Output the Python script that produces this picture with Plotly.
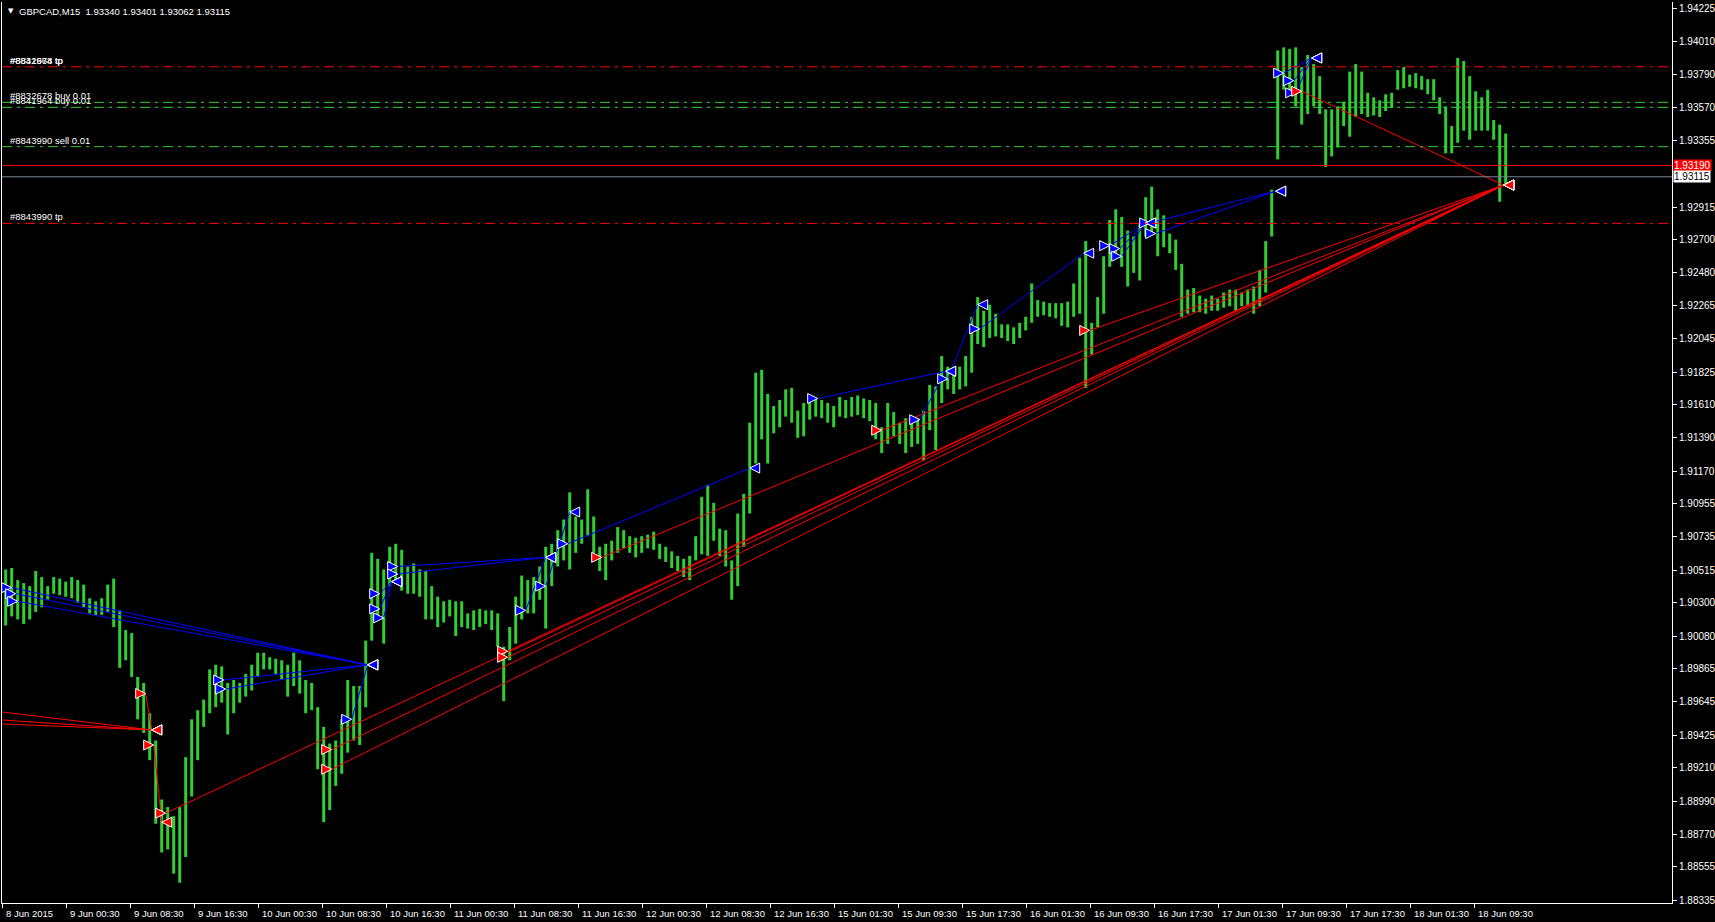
import plotly.graph_objects as go

# ---------------- data ----------------
# each entry = one group of 3 consecutive M15 bars (high / low)
highs = [
1.9052,1.9053,1.9045,1.9043,1.9041,1.9051,1.9047,1.9041,1.9047,1.9046,
1.9044,1.9047,1.9045,1.9042,1.9033,1.9031,1.9033,1.9042,1.9046,1.9025,
1.9012,1.9010,1.8981,1.8977,1.8957,1.8939,1.8900,1.8895,1.8889,1.8895,
1.8928,1.8953,1.8959,1.8966,1.8986,1.8989,1.8988,1.8977,1.8979,1.8977,
1.8983,1.8989,1.8997,1.8997,1.8994,1.8993,1.8992,1.8989,1.8997,1.8992,
1.8979,1.8977,1.8961,1.8948,1.8937,1.8939,1.8953,1.8979,1.8975,1.8975,
1.9005,1.9063,1.9059,1.9052,1.9067,1.9069,1.9065,1.9054,1.9056,1.9052,
1.9051,1.9041,1.9034,1.9031,1.9032,1.9031,1.9031,1.9023,1.9025,1.9026,
1.9025,1.9025,1.9023,1.9001,1.9014,1.9034,1.9048,1.9045,1.9047,1.9054,
1.9067,1.9069,1.9078,1.9085,1.9103,1.9087,1.9085,1.9105,1.9087,1.9067,
1.9069,1.9071,1.9080,1.9078,1.9074,1.9073,1.9074,1.9075,1.9077,1.9069,
1.9067,1.9064,1.9061,1.9059,1.9061,1.9074,1.9100,1.9108,1.9096,1.9079,
1.9078,1.9058,1.9089,1.9102,1.9149,1.9182,1.9184,1.9168,1.9160,1.9164,
1.9171,1.9172,1.9157,1.9162,1.9166,1.9165,1.9164,1.9162,1.9160,1.9166,
1.9164,1.9166,1.9167,1.9165,1.9164,1.9162,1.9146,1.9162,1.9156,1.9149,
1.9152,1.9151,1.9152,1.9157,1.9174,1.9173,1.9193,1.9186,1.9184,1.9186,
1.9193,1.9219,1.9232,1.9223,1.9227,1.9221,1.9214,1.9214,1.9212,1.9215,
1.9219,1.9241,1.9230,1.9229,1.9228,1.9228,1.9228,1.9229,1.9241,1.9258,
1.9269,1.9215,1.9232,1.9259,1.9283,1.9290,1.9285,1.9276,1.9272,1.9280,
1.9298,1.9305,1.9290,1.9286,1.9274,1.9270,1.9254,1.9237,1.9238,1.9233,
1.9231,1.9233,1.9231,1.9235,1.9237,1.9237,1.9235,1.9237,1.9239,1.9250,
1.9269,1.9303,1.9395,1.9397,1.9396,1.9397,1.9384,1.9392,1.9386,1.9378,
1.9356,1.9356,1.9358,1.9361,1.9381,1.9386,1.9381,1.9367,1.9364,1.9362,
1.9366,1.9367,1.9382,1.9384,1.9379,1.9380,1.9378,1.9376,1.9376,1.9364,
1.9358,1.9345,1.9390,1.9388,1.9378,1.9368,1.9364,1.9369,1.9349,1.9346,
1.93401]
lows = [
1.9015,1.9021,1.9019,1.9016,1.9019,1.9024,1.9027,1.9032,1.9036,1.9035,
1.9034,1.9033,1.9030,1.9027,1.9023,1.9022,1.9022,1.9024,1.9014,1.8987,
1.8992,1.8981,1.8953,1.8944,1.8926,1.8884,1.8865,1.8867,1.8851,1.8845,
1.8862,1.8902,1.8926,1.8948,1.8957,1.8961,1.8964,1.8943,1.8957,1.8964,
1.8968,1.8972,1.8981,1.8986,1.8986,1.8983,1.8979,1.8968,1.8975,1.8970,
1.8957,1.8959,1.8920,1.8885,1.8893,1.8909,1.8917,1.8931,1.8939,1.8936,
1.8961,1.9005,1.9019,1.9003,1.9041,1.9045,1.9038,1.9036,1.9036,1.9034,
1.9019,1.9019,1.9014,1.9017,1.9021,1.9008,1.9014,1.9013,1.9012,1.9014,
1.9016,1.9012,1.9001,1.8965,1.8992,1.9003,1.9019,1.9023,1.9023,1.9032,
1.9013,1.9041,1.9054,1.9058,1.9052,1.9063,1.9069,1.9074,1.9063,1.9051,
1.9045,1.9058,1.9063,1.9066,1.9063,1.9060,1.9063,1.9066,1.9065,1.9059,
1.9057,1.9053,1.9051,1.9047,1.9045,1.9058,1.9062,1.9061,1.9071,1.9061,
1.9054,1.9032,1.9041,1.9067,1.9089,1.9122,1.9138,1.9122,1.9142,1.9146,
1.9153,1.9149,1.9139,1.9140,1.9151,1.9153,1.9152,1.9149,1.9146,1.9153,
1.9152,1.9153,1.9154,1.9152,1.9150,1.9138,1.9129,1.9135,1.9140,1.9135,
1.9129,1.9133,1.9135,1.9124,1.9144,1.9131,1.9162,1.9171,1.9168,1.9171,
1.9173,1.9182,1.9201,1.9199,1.9205,1.9206,1.9205,1.9203,1.9201,1.9205,
1.9210,1.9215,1.9219,1.9220,1.9219,1.9218,1.9213,1.9212,1.9219,1.9221,
1.9172,1.9194,1.9212,1.9221,1.9252,1.9259,1.9252,1.9239,1.9248,1.9243,
1.9272,1.9274,1.9259,1.9265,1.9261,1.9250,1.9219,1.9221,1.9222,1.9222,
1.9221,1.9223,1.9223,1.9225,1.9226,1.9223,1.9226,1.9226,1.9221,1.9226,
1.9235,1.9272,1.9323,1.9369,1.9367,1.9358,1.9346,1.9353,1.9358,1.9353,
1.9318,1.9325,1.9331,1.9345,1.9338,1.9351,1.9353,1.9351,1.9352,1.9351,
1.9355,1.9357,1.9369,1.9370,1.9371,1.9370,1.9369,1.9366,1.9362,1.9353,
1.9327,1.9327,1.9334,1.9342,1.9336,1.9342,1.9342,1.9342,1.9336,1.9295,
1.93062]
# position of each group, in M15-bar units
bar_pos = [3 * i + 1 for i in range(len(highs))]

time_labels = ["8 Jun 2015", "9 Jun 00:30", "9 Jun 08:30", "9 Jun 16:30", "10 Jun 00:30",
               "10 Jun 08:30", "10 Jun 16:30", "11 Jun 00:30", "11 Jun 08:30", "11 Jun 16:30",
               "12 Jun 00:30", "12 Jun 08:30", "12 Jun 16:30", "15 Jun 01:30", "15 Jun 09:30",
               "15 Jun 17:30", "16 Jun 01:30", "16 Jun 09:30", "16 Jun 17:30", "17 Jun 01:30",
               "17 Jun 09:30", "17 Jun 17:30", "18 Jun 01:30", "18 Jun 09:30"]
time_label_bar = [32 * i - 0.5 for i in range(len(time_labels))]

price_ticks = [1.94225, 1.94010, 1.93790, 1.93570, 1.93355, 1.92915, 1.92700, 1.92480,
               1.92265, 1.92045, 1.91825, 1.91610, 1.91390, 1.91170, 1.90955, 1.90735,
               1.90515, 1.90300, 1.90080, 1.89865, 1.89645, 1.89425, 1.89210, 1.88990,
               1.88770, 1.88555, 1.88335]

# order levels (tp / open price lines)
level_price = [1.93842, 1.93607, 1.93574, 1.93314, 1.92807]
level_color = ["#FF0000", "#32CD32", "#32CD32", "#32CD32", "#FF0000"]
level_text = [["#8832678 tp", "#8841964 tp"], ["#8832678 buy 0.01"], ["#8841964 buy 0.01"],
              ["#8843990 sell 0.01"], ["#8843990 tp"]]
ask_price = 1.93190
bid_price = 1.93115
header = "GBPCAD,M15\u00a0\u00a01.93340 1.93401 1.93062 1.93115"

# closed trades (bar position, price)
buy_open_bar = [4, 6, 7, 110, 111, 174, 188, 188, 190, 197, 197, 261, 271, 282,
                407, 458, 472, 488, 553, 558, 559, 573, 576, 640, 645, 646]
buy_open_price = [1.9040, 1.9036, 1.9031, 1.8979, 1.8973, 1.8953, 1.9036, 1.9026, 1.9020,
                  1.9054, 1.9049, 1.9025, 1.9041, 1.9069, 1.9165, 1.9151, 1.9178, 1.9211,
                  1.9266, 1.9264, 1.9259, 1.9281, 1.9274, 1.9380, 1.9375, 1.9367]
buy_close_bar = [182, 182, 182, 182, 182, 182, 194, 194, 194, 271, 271, 271, 283, 373,
                 471, 471, 487, 540, 571, 571, 571, 636, 636, 654, 654, 654]
buy_close_price = [1.8989, 1.8989, 1.8989, 1.8989, 1.8989, 1.8989, 1.9044, 1.9044, 1.9044,
                   1.9060, 1.9060, 1.9060, 1.9090, 1.9119, 1.9183, 1.9183, 1.9227, 1.9261,
                   1.9281, 1.9281, 1.9281, 1.9302, 1.9302, 1.9390, 1.9390, 1.9390]
sell_open_bar = [-40, -40, -40, 71, 75, 81, 164, 164, 252, 252, 299, 439, 543, 649]
sell_open_price = [1.8964, 1.8956, 1.8952, 1.8970, 1.8936, 1.8891, 1.8933, 1.8920, 1.8998,
                   1.8994, 1.9060, 1.9144, 1.9210, 1.9368]
sell_close_bar = [74, 74, 74, 74, 79, 750, 750, 750, 750, 750, 750, 750, 750, 750]
sell_close_price = [1.8946, 1.8946, 1.8946, 1.8946, 1.8885, 1.9306, 1.9306, 1.9306, 1.9306,
                    1.9306, 1.9306, 1.9306, 1.9306, 1.9306]

# ---------------- figure ----------------
FONT = "Liberation Sans, Arial, sans-serif"
GREEN = "#32CD32"
W, H = 1715, 922
ML, MR, MT, MB = 2, 43, 2, 19

fig = go.Figure()

bx, by = [], []
for x, h, l in zip(bar_pos, highs, lows):
    bx += [x, x, None]
    by += [l, h, None]
fig.add_trace(go.Scatter(x=bx, y=by, mode="lines", line=dict(color=GREEN, width=3),
                         hoverinfo="skip", showlegend=False))


def seg_trace(xa, ya, xb, yb, color):
    xs, ys = [], []
    for a, b, c, d in zip(xa, ya, xb, yb):
        xs += [a, c, None]
        ys += [b, d, None]
    return go.Scatter(x=xs, y=ys, mode="lines", line=dict(color=color, width=1),
                      hoverinfo="skip", showlegend=False)


fig.add_trace(seg_trace(sell_open_bar, sell_open_price, sell_close_bar, sell_close_price, "#FF0000"))
fig.add_trace(seg_trace(buy_open_bar, buy_open_price, buy_close_bar, buy_close_price, "#0000FF"))


def mk(x, y, sym, color):
    return go.Scatter(x=x, y=y, mode="markers", cliponaxis=True,
                      marker=dict(symbol=sym, size=10, color=color,
                                  line=dict(color="white", width=1)),
                      hoverinfo="skip", showlegend=False)


fig.add_trace(mk(buy_open_bar, buy_open_price, "arrow-right", "#0000FF"))
fig.add_trace(mk(buy_close_bar, buy_close_price, "arrow-left", "#0000FF"))
fig.add_trace(mk(sell_open_bar, sell_open_price, "arrow-right", "#FF0000"))
fig.add_trace(mk(sell_close_bar, sell_close_price, "arrow-left", "#FF0000"))

shapes = []
annotations = []
for p, c, texts in zip(level_price, level_color, level_text):
    shapes.append(dict(type="line", xref="paper", x0=0, x1=1, yref="y", y0=p, y1=p,
                       line=dict(color=c, width=1, dash="10px,5px,3px,5px")))
    for t in texts:
        annotations.append(dict(text=t, xref="paper", x=0, xanchor="left", xshift=6,
                                yref="y", y=p, yanchor="bottom", yshift=-1,
                                showarrow=False, font=dict(family=FONT, size=9.5, color="white")))
shapes.append(dict(type="line", xref="paper", x0=0, x1=1, yref="y", y0=ask_price, y1=ask_price,
                   line=dict(color="#FF0000", width=1)))
shapes.append(dict(type="line", xref="paper", x0=0, x1=1, yref="y", y0=bid_price, y1=bid_price,
                   line=dict(color="#778899", width=1)))

annotations.append(dict(text=f"{ask_price:.5f}", xref="paper", x=1, xanchor="left", xshift=1,
                        yref="y", y=ask_price, yanchor="middle", showarrow=False, bgcolor="#FF0000",
                        borderpad=0, font=dict(family=FONT, size=10, color="white")))
annotations.append(dict(text=f"{bid_price:.5f}", xref="paper", x=1, xanchor="left", xshift=1,
                        yref="y", y=bid_price, yanchor="middle", showarrow=False, bgcolor="white",
                        borderpad=0, font=dict(family=FONT, size=10, color="black")))

annotations.append(dict(text=header, xref="paper", x=0, xanchor="left", xshift=15,
                        yref="paper", y=1, yanchor="top", yshift=-2, showarrow=False,
                        font=dict(family=FONT, size=9.5, color="white")))
annotations.append(dict(text="\u25bc", xref="paper", x=0, xanchor="left", xshift=4,
                        yref="paper", y=1, yanchor="top", yshift=-3, showarrow=False,
                        font=dict(family="DejaVu Sans", size=7, color="white")))

for t, b in zip(time_labels, time_label_bar):
    annotations.append(dict(text=t, xref="x", x=b, xanchor="left", xshift=1,
                            yref="paper", y=0, yanchor="top", yshift=-3, showarrow=False,
                            font=dict(family=FONT, size=9.5, color="white")))

plot_w = W - ML - MR
x0 = -0.85
x1 = x0 + plot_w / 2.0
y_top = 1.94270
y_bot = y_top - (H - MT - MB) * 0.00006608

fig.update_layout(
    width=W, height=H, template="none",
    margin=dict(l=ML, r=MR, t=MT, b=MB, pad=0),
    paper_bgcolor="black", plot_bgcolor="black",
    showlegend=False, hovermode=False,
    shapes=shapes, annotations=annotations,
    xaxis=dict(range=[x0, x1], showgrid=False, zeroline=False, showline=True,
               linecolor="white", linewidth=1, ticks="outside", ticklen=4, tickcolor="white",
               tickvals=time_label_bar, showticklabels=False, automargin=False, fixedrange=True),
    yaxis=dict(range=[y_bot, y_top], side="right", showgrid=False, zeroline=False,
               showline=True, mirror=True, linecolor="white", linewidth=1,
               ticks="outside", ticklen=4, tickcolor="white",
               tickvals=price_ticks, ticktext=[f"{v:.5f}" for v in price_ticks],
               tickfont=dict(family=FONT, size=10, color="white"),
               automargin=False, fixedrange=True),
)

fig.write_html("out.html", config={"displayModeBar": False},
               post_script="document.body.style.margin='0';document.body.style.background='black';")
